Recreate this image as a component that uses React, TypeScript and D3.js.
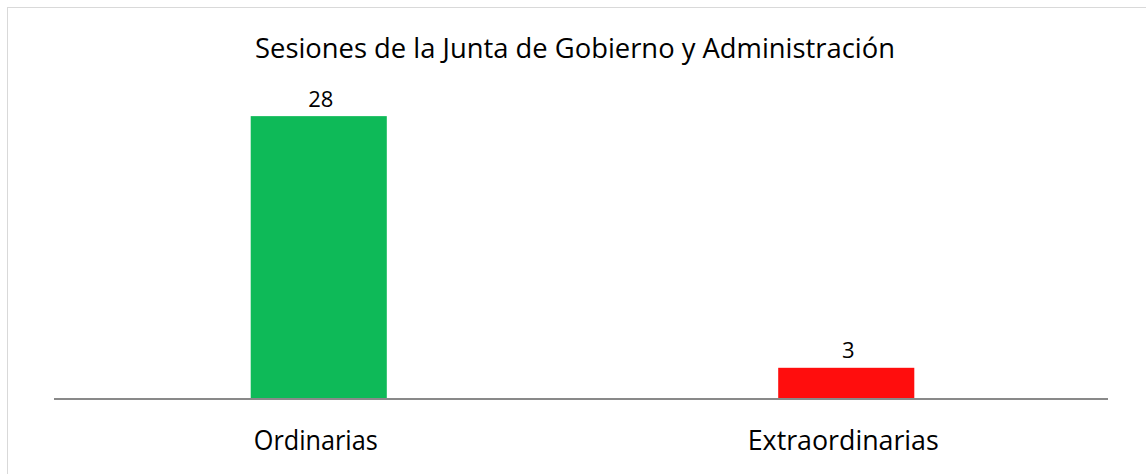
import React, { useEffect, useRef } from "react";
import * as d3 from "d3";

const categories = ["Ordinarias", "Extraordinarias"];
const values = [28, 3];
const barColors = ["#0EBA58", "#FF0D0D"];
const title = "Sesiones de la Junta de Gobierno y Administración";

export default function App() {
  const ref = useRef<SVGSVGElement | null>(null);

  useEffect(() => {
    const svg = d3.select(ref.current);
    svg.selectAll("*").remove();
    const W = 1146, H = 474;
    const font = "'Open Sans', 'Noto Sans', sans-serif";

    // chart area border (only left/top visible)
    svg.append("rect").attr("x", 7.5).attr("y", 7.5).attr("width", 1200).attr("height", 600)
      .attr("fill", "#fff").attr("stroke", "#d9d9d9").attr("stroke-width", 1);

    const x = d3.scaleBand<string>().domain(categories).range([55, 1110])
      .paddingInner(0.742).paddingOuter(0.371);
    const y = d3.scaleLinear().domain([0, 30]).range([398, 96]);

    svg.append("text").text(title)
      .attr("x", 575).attr("y", 58).attr("text-anchor", "middle")
      .attr("font-family", font).attr("font-size", 28).attr("fill", "#000")
      .attr("textLength", 640).attr("lengthAdjust", "spacingAndGlyphs");

    svg.selectAll("rect.bar").data(values).enter().append("rect").attr("class", "bar")
      .attr("x", (_d, i) => x(categories[i])!)
      .attr("width", x.bandwidth())
      .attr("y", d => y(d))
      .attr("height", d => y(0) - y(d))
      .attr("fill", (_d, i) => barColors[i]);

    svg.selectAll("text.val").data(values).enter().append("text").attr("class", "val")
      .text(d => String(d))
      .attr("x", (_d, i) => x(categories[i])! + x.bandwidth() / 2 + 2)
      .attr("y", d => y(d) - 9.5)
      .attr("text-anchor", "middle")
      .attr("font-family", font).attr("font-size", 22).attr("fill", "#000");

    svg.append("line").attr("x1", 54).attr("x2", 1108).attr("y1", y(0) + 1).attr("y2", y(0) + 1)
      .attr("stroke", "#898989").attr("stroke-width", 2);

    const labelWidths = [124, 191];
    svg.selectAll("text.cat").data(categories).enter().append("text").attr("class", "cat")
      .text(d => d)
      .attr("x", d => x(d)! + x.bandwidth() / 2 - 3)
      .attr("y", 450)
      .attr("text-anchor", "middle")
      .attr("font-family", font).attr("font-size", 28).attr("fill", "#000")
      .attr("textLength", (_d, i) => labelWidths[i]).attr("lengthAdjust", "spacingAndGlyphs");

    svg.attr("width", W).attr("height", H);
  }, []);

  return (
    <svg ref={ref} width={1146} height={474}
      style={{ position: "absolute", left: 0, top: 0, display: "block", background: "#fff" }} />
  );
}
